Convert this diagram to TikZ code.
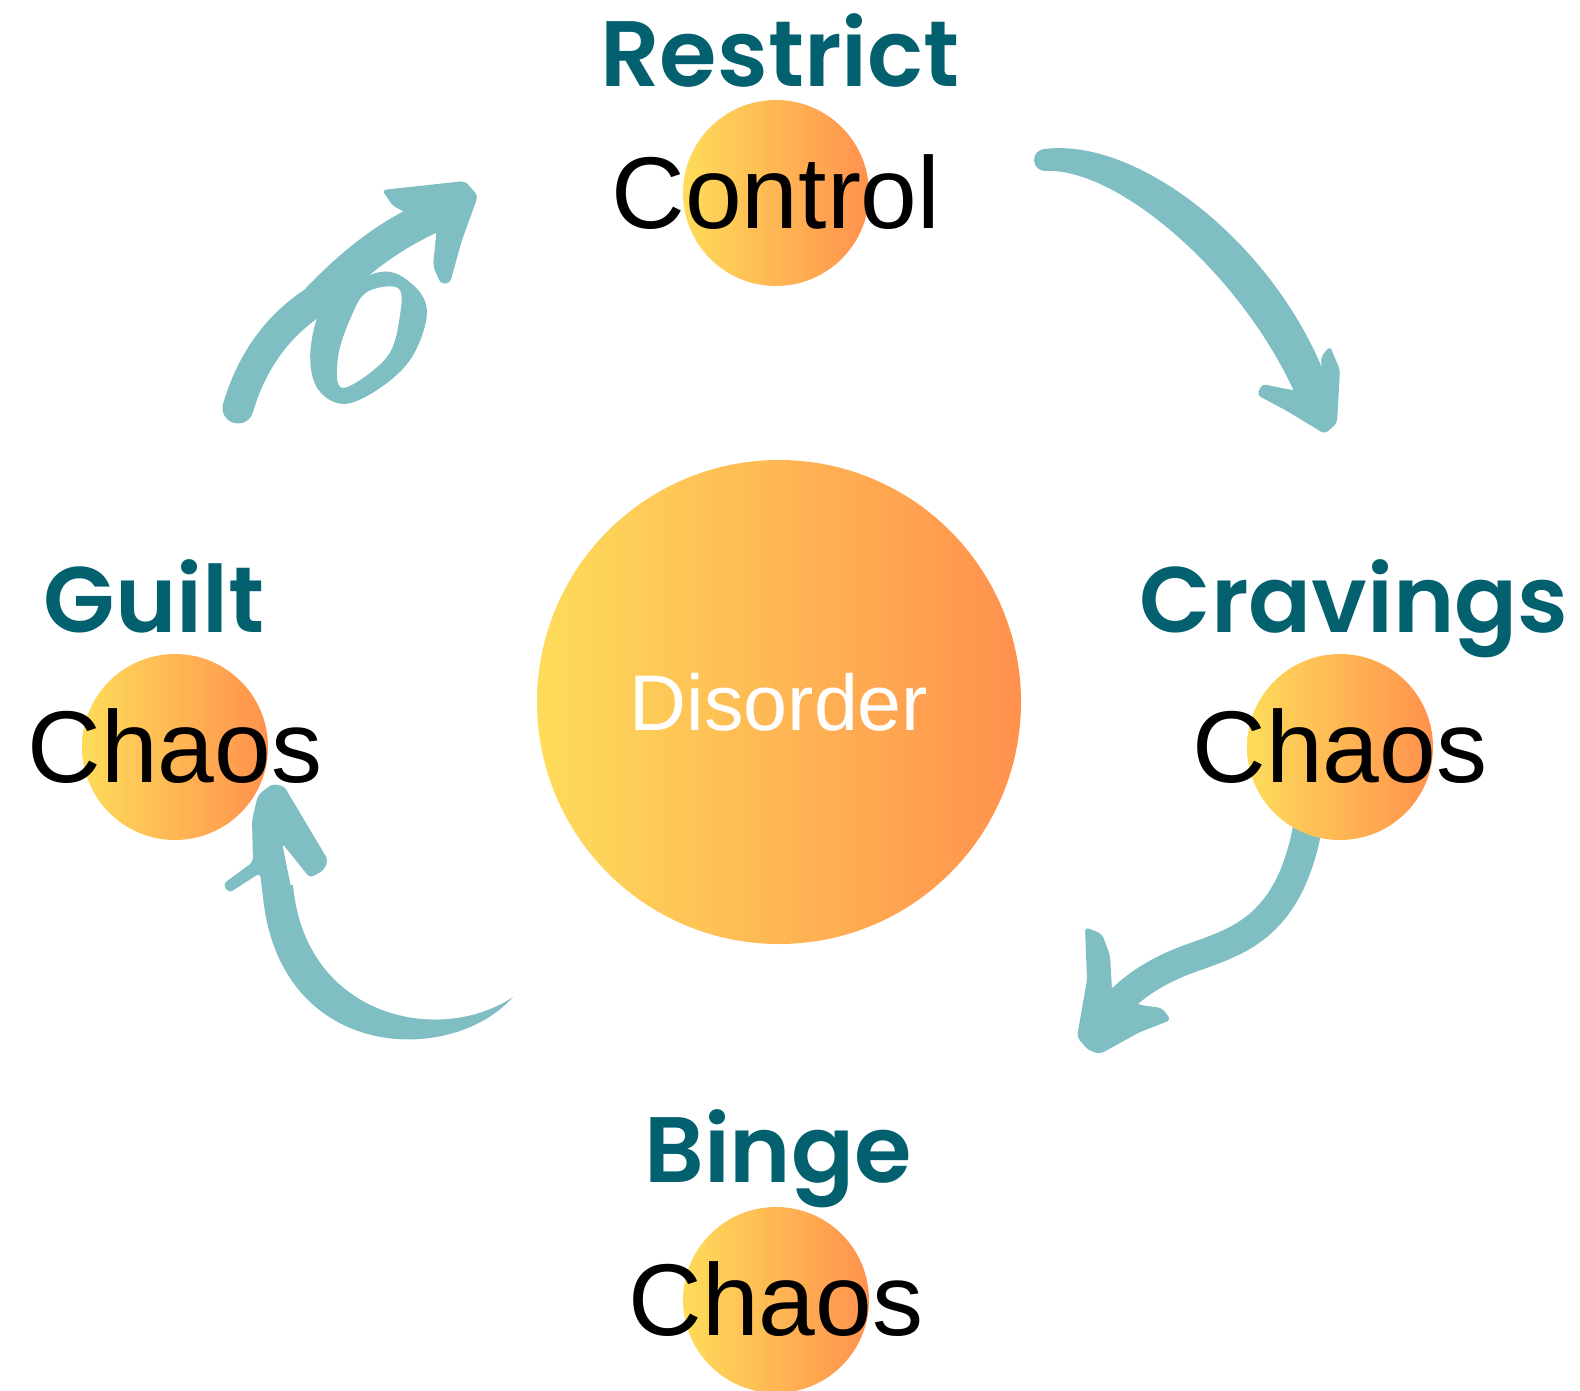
\documentclass[tikz,border=0pt]{standalone}
\usepackage{fontspec}
\setmainfont{Liberation Sans}
\newfontfamily\headfont{Poppins}[UprightFont=* SemiBold]
\definecolor{arrowteal}{RGB}{127,190,194}
\definecolor{deepteal}{RGB}{3,96,110}
\definecolor{sunY}{RGB}{254,220,90}
\definecolor{sunO}{RGB}{255,145,77}
\begin{document}
\begin{tikzpicture}[x=1pt,y=-1pt,
  blob/.style={circle, inner sep=0pt, minimum size=#1, left color=sunY, right color=sunO, draw=none},
  word/.style={anchor=base, inner sep=0pt, font=\fontsize{102}{110}\selectfont, text=black},
  stage/.style={anchor=base, inner sep=0pt, font=\headfont\fontsize{93}{100}\selectfont, text=deepteal},
  brush/.style={draw=arrowteal, line width=28pt, line cap=round, line join=round},
  ink/.style={fill=arrowteal, rounded corners=4pt}
]
\useasboundingbox (0,0) rectangle (1580,1390);
\clip (0,0) rectangle (1580,1390);

% ---------- brush arrows (drawn first, circles sit on top) ----------
% Restrict -> Cravings: stroke widening towards the head
\fill[arrowteal] (1045,149) .. controls (1140,137) and (1280,248) .. (1329,386)
      -- (1297,398) .. controls (1244,276) and (1118,167) .. (1045,171) -- cycle;
\draw[brush, line width=22pt] (1045,160) -- (1048,159.7);
\fill[ink] (1321,357) -- (1330,346) -- (1340,370) -- (1337,423) -- (1325,434) -- (1287,411)
      -- (1257,395) -- (1262,384) -- (1297,391) -- (1310,385) -- (1322,380) -- cycle;

% Cravings -> Binge
\draw[brush, line width=29pt] (1308,825) .. controls (1290,925) and (1240,940) .. (1200,955)
      .. controls (1160,968) and (1135,985) .. (1118,1003);
\fill[ink] (1085,927) -- (1102,934) -- (1110,955) -- (1112,990) -- (1125,998) -- (1140,1005)
      -- (1162,1008) -- (1171,1020) -- (1140,1032) -- (1100,1054) -- (1088,1050)
      -- (1077,1037) -- (1087,980) -- cycle;

% Binge -> Guilt (crescent stroke with open head)
\fill[arrowteal] (513,997) .. controls (450,1068) and (272,1062) .. (262,885)
      -- (293,885) .. controls (305,1018) and (440,1046) .. (513,997) -- cycle;
\fill[ink] (263,897) -- (260,873) -- (229,893) -- (223,884) -- (253,862) -- (252,820)
      -- (258,795) -- (272,784) -- (284,786) -- (328,860) -- (324,870) -- (310,878)
      -- (282,843) -- (293,897) -- cycle;

% Guilt -> Restrict (stroke with a loop)
\draw[brush, line width=31pt] (238,408) .. controls (255,350) and (290,312) .. (335,290);
\fill[arrowteal, even odd rule]
  plot[smooth cycle, tension=0.6] coordinates {(380,272) (412,284) (427,312) (412,357) (380,388) (343,404) (316,386) (311,345) (328,300)}
  plot[smooth cycle, tension=0.6] coordinates {(367,292) (398,288) (400,315) (387,357) (343,388) (338,357) (351,317)};
\draw[brush, line width=34pt, line cap=butt] (318,300) .. controls (360,256) and (400,228) .. (447,210);
\fill[ink] (382,190) -- (465,181) -- (478,196) -- (462,240) -- (450,283) -- (441,284)
      -- (433,266) -- (437,226) -- (420,232) -- (405,212) -- (393,206) -- cycle;

% ---------- circles ----------
\node[blob=484pt] (core) at (779,702) {};
\node[blob=186pt] (ctl) at (776,193) {};
\node[blob=186pt] (gui) at (175,747) {};
\node[blob=186pt] (cra) at (1340,747) {};
\node[blob=186pt] (bin) at (776,1300) {};

% ---------- words ----------
\node[anchor=base, inner sep=0pt, font=\fontsize{79}{85}\selectfont, text=white] (dis) at (779,730) {Disorder};
\node[word] (wctl) at (776,228) {Control};
\node[word] (wgui) at (175,782) {Chaos};
\node[word] (wcra) at (1340,782) {Chaos};
\node[word] (wbin) at (776,1335) {Chaos};

\node[stage] (lres) at (780,86) {Restrict};
\node[stage] (lgui) at (154,632) {Guilt};
\node[stage] (lcra) at (1354,632) {Cravings};
\node[stage] (lbin) at (778,1182) {Binge};
\end{tikzpicture}
\end{document}
